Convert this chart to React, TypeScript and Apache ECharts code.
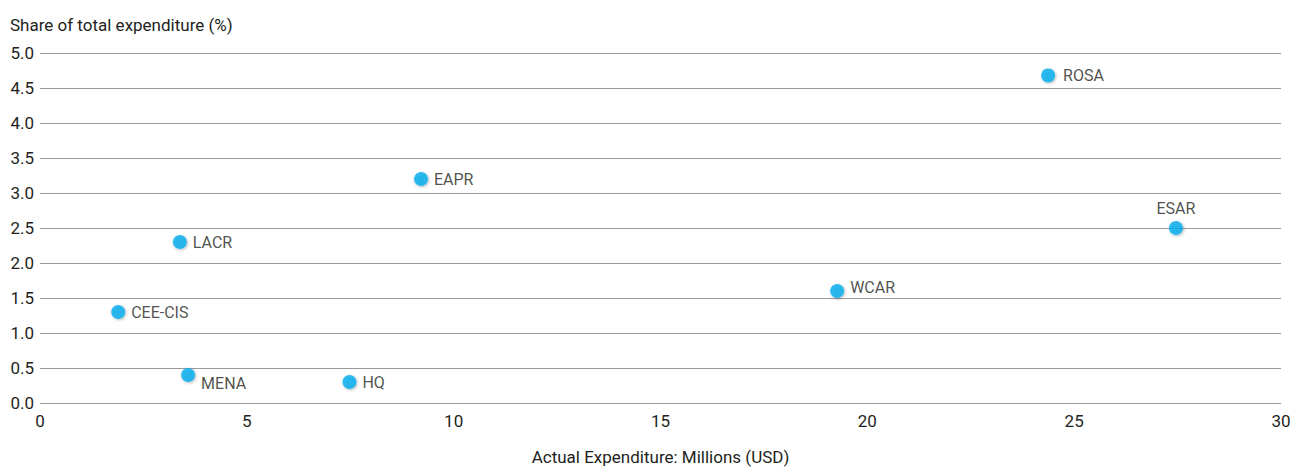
import React, { useEffect, useRef } from "react";
import * as echarts from "echarts";

const regions = ["ROSA", "ESAR", "WCAR", "EAPR", "LACR", "CEE-CIS", "MENA", "HQ"];
const expenditure = [24.37, 27.46, 19.27, 9.21, 3.38, 1.89, 3.58, 7.48];
const share = [4.68, 2.5, 1.6, 3.2, 2.3, 1.3, 0.4, 0.3];
const labelPos = ["right", "top", "right", "right", "right", "right", "bottom", "right"];
const xTicks = [0, 5, 10, 15, 20, 25, 30];

const FONT = "Roboto, 'Noto Sans', sans-serif";
const TEXT = "#231f20";

export default function App() {
  const ref = useRef<HTMLDivElement>(null);
  useEffect(() => {
    if (!ref.current) return;
    const chart = echarts.init(ref.current, null, { renderer: "svg" });
    const data = regions.map((r, i) => {
      const pos = labelPos[i];
      const label: any = { position: pos };
      if (pos === "bottom") {
        label.position = "right";
        label.offset = [0, 8];
      }
      if (pos === "top") label.distance = 5;
      if (r === "WCAR") label.offset = [0, -4];
      if (r === "ROSA") label.offset = [2, 0];
      return { name: r, value: [expenditure[i], share[i]], label };
    });
    chart.setOption({
      animation: false,
      textStyle: { fontFamily: FONT },
      grid: { left: 40, right: 12, top: 53, bottom: 65, outerBoundsMode: "none", containLabel: false },
      xAxis: {
        type: "value",
        min: xTicks[0],
        max: xTicks[xTicks.length - 1],
        interval: 5,
        name: "Actual Expenditure: Millions (USD)",
        nameLocation: "middle",
        nameGap: 45,
        nameTextStyle: { color: TEXT, fontSize: 17, fontFamily: FONT },
        axisLine: { show: false },
        axisTick: { show: false },
        splitLine: { show: false },
        axisLabel: { color: TEXT, fontSize: 17, fontFamily: FONT, margin: 9 },
      },
      yAxis: {
        type: "value",
        min: 0,
        max: 5,
        interval: 0.5,
        name: "Share of total expenditure (%)",
        nameLocation: "end",
        nameGap: 20,
        nameTextStyle: { color: TEXT, fontSize: 17, fontFamily: FONT, align: "left", padding: [0, 0, 0, -30] },
        axisLine: { show: false },
        axisTick: { show: false },
        splitLine: { show: true, lineStyle: { color: "#9a9a9a", width: 1 } },
        axisLabel: {
          color: TEXT,
          fontSize: 17,
          fontFamily: FONT,
          margin: 6,
          formatter: (v: number) => v.toFixed(1),
        },
      },
      series: [
        {
          type: "scatter",
          symbolSize: 14,
          itemStyle: {
            color: "#00aeef",
            shadowColor: "rgba(0,0,0,0.35)",
            shadowBlur: 3,
            shadowOffsetX: 1,
            shadowOffsetY: 1,
          },
          label: {
            show: true,
            formatter: "{b}",
            color: TEXT,
            fontSize: 16,
            fontFamily: FONT,
            distance: 6,
          },
          data,
        },
      ],
    });
    return () => chart.dispose();
  }, []);
  return <div ref={ref} style={{ width: 1293, height: 468, position: "absolute", left: 0, top: 0 }} />;
}
